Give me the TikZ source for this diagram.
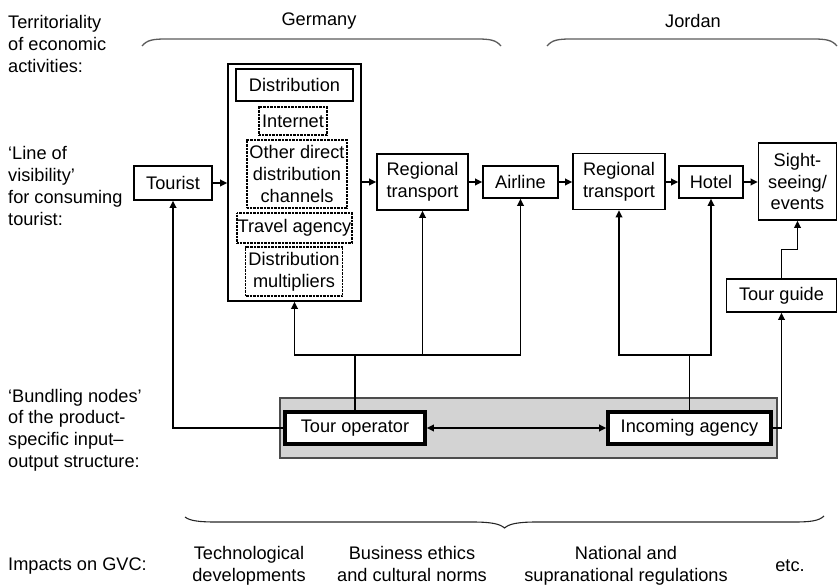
\documentclass[tikz,border=0pt]{standalone}
\usepackage{fontspec}
\setmainfont{Liberation Sans}
\usetikzlibrary{arrows.meta}
\definecolor{bandgray}{HTML}{D3D3D3}
\definecolor{bracegray}{HTML}{5A5A5A}
\begin{document}
\begin{tikzpicture}[x=1pt,y=-1pt,
  every node/.style={font=\fontsize{18.2}{21.7}\selectfont, inner sep=0pt, align=center},
  lbl/.style={anchor=west, align=left},
  foot/.style={text depth=3pt},
  box/.style={draw, line width=1.6pt, fill=white},
  thickbox/.style={draw, line width=3.6pt, fill=white},
  dotbox/.style={draw, line width=1.2pt, dash pattern=on 0.9pt off 0.5pt, fill=white},
  band/.style={draw=black!70, line width=1.2pt, fill=bandgray},
  conn/.style={line width=1.8pt},
  arr/.style={line width=1.8pt, -{Triangle[length=7pt,width=6.5pt]}},
  darr/.style={line width=1.8pt, {Triangle[length=7pt,width=6.5pt]}-{Triangle[length=7pt,width=6.5pt]}},
  brc/.style={draw=bracegray, line width=1.3pt}]
\useasboundingbox (0,0) rectangle (838,585);

% row labels on the left
\node[lbl] (terr) at (8,44) {Territoriality\\of economic\\activities:};
\node[lbl] (lov) at (8,186) {‘Line of\\visibility’\\for consuming\\tourist:};
\node[lbl] (bund) at (8,430) {‘Bundling nodes’\\of the product-\\specific input--\\output structure:};
\node[lbl] (imp) at (8,566) {Impacts on GVC:};

% countries and their brackets
\node (ger) at (319,21) {Germany};
\node (jor) at (693,21) {Jordan};
\draw[brc] (142,46) .. controls (147,40) and (153,39) .. (166,39) -- (477,39)
  .. controls (490,39) and (496,40) .. (501,46);
\draw[brc] (547,46) .. controls (552,40) and (558,39) .. (571,39) -- (813,39)
  .. controls (826,39) and (832,40) .. (837,46);

% bundling band
\node[band, minimum width=497pt, minimum height=60pt] (bandbox) at (528.5,428) {};

% distribution block
\node[box, minimum width=133pt, minimum height=237pt] (distrib) at (294.5,182.5) {};
\node[thickbox, line width=2.6pt, minimum width=117pt, minimum height=32pt] (dhead) at (294.5,85) {Distribution};
\node[dotbox, minimum width=68pt, minimum height=28pt] (inet) at (293,121) {Internet};
\node[dotbox, minimum width=100pt, minimum height=68pt] (other) at (297,174) {Other direct\\distribution\\channels};
\node[dotbox, minimum width=115pt, minimum height=30pt] (travel) at (294.5,228) {Travel agency};
\node[dotbox, minimum width=97pt, minimum height=49pt] (mult) at (294,271.5) {Distribution\\multipliers};

% value chain stations
\node[box, minimum width=78pt, minimum height=34pt] (tourist) at (173,183) {Tourist};
\node[box, minimum width=91pt, minimum height=56pt] (rtA) at (422.5,182) {Regional\\transport};
\node[box, minimum width=75pt, minimum height=32pt] (airline) at (520.5,182) {Airline};
\node[box, minimum width=92pt, minimum height=56pt] (rtB) at (619,181.5) {Regional\\transport};
\node[box, minimum width=64pt, minimum height=32pt] (hotel) at (711,182) {Hotel};
\node[box, minimum width=78pt, minimum height=77pt] (sight) at (797.5,181.5) {Sight-\\seeing/\\events};
\node[box, minimum width=110pt, minimum height=33pt] (guide) at (781.5,295.5) {Tour guide};

% bundling nodes
\node[thickbox, minimum width=140pt, minimum height=32pt] (tourop) at (355,428) {Tour operator};
\node[thickbox, minimum width=163pt, minimum height=32pt] (incoming) at (689.5,428) {Incoming agency};

% horizontal flow
\draw[arr] (tourist.east) -- (distrib.west |- tourist.east);
\draw[arr] (distrib.east |- rtA.west) -- (rtA.west);
\draw[arr] (rtA.east |- airline.west) -- (airline.west);
\draw[arr] (airline.east) -- (rtB.west |- airline.east);
\draw[arr] (rtB.east |- hotel.west) -- (hotel.west);
\draw[arr] (hotel.east) -- (sight.west |- hotel.east);

% tour operator links
\coordinate (jG) at (355,355);
\draw[conn] (tourop.north) -- (jG);
\draw[arr] (jG) -| (distrib.south);
\draw[arr] (jG) -| (rtA.south);
\draw[arr] (jG) -| (airline.south);
\draw[arr] (tourop.west) -| (tourist.south);

% incoming agency links
\coordinate (jJ) at (689.5,355);
\draw[conn] (incoming.north) -- (jJ);
\draw[arr] (jJ) -| (rtB.south);
\draw[arr] (jJ) -| (hotel.south);
\draw[arr] (incoming.east) -| (guide.south);
\coordinate (gbend) at (781.5,249.5);
\draw[arr] (guide.north) -- (gbend) -| (sight.south);

% operator to agency
\draw[darr] (tourop.east) -- (incoming.west);

% impacts
\draw[brc, draw=black!85, line width=1.1pt] (185,517) .. controls (190,521) and (200,522) .. (216,522) -- (472,522)
  .. controls (492,522) and (500,524) .. (504.5,528)
  .. controls (509,524) and (517,522) .. (537,522) -- (794,522)
  .. controls (810,522) and (819,521) .. (824,516);
\node[foot] (tech) at (249,565.5) {Technological\\developments};
\node[foot] (ethics) at (412,565.5) {Business ethics\\and cultural norms};
\node[foot] (regs) at (626,565.5) {National and\\supranational regulations};
\node (etc) at (790,566) {etc.};
\end{tikzpicture}
\end{document}
